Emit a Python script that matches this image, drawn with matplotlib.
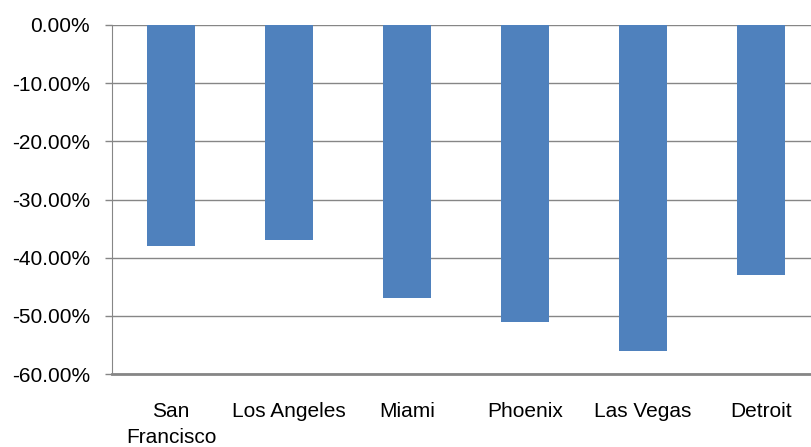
import matplotlib.pyplot as plt
from matplotlib.ticker import FuncFormatter, MultipleLocator

# 数据
cities = ["San\nFrancisco", "Los Angeles", "Miami", "Phoenix", "Las Vegas", "Detroit"]
changes = [-0.38, -0.37, -0.47, -0.51, -0.56, -0.43]

plt.rcParams['font.family'] = ['Liberation Sans', 'DejaVu Sans']

fig = plt.figure(figsize=(8.11, 4.47), dpi=100)
ax = fig.add_axes([112 / 811, 1 - 374 / 447, 708 / 811, 349 / 447])

x = range(len(cities))
ax.bar(x, changes, width=0.415, color='#4F81BD', zorder=3)

ax.set_ylim(-0.6, 0)
ax.set_xlim(-0.5, len(cities) - 0.5)
ax.yaxis.set_major_locator(MultipleLocator(0.1))
ax.yaxis.set_major_formatter(FuncFormatter(lambda v, _: f"{v * 100:.2f}%"))
ax.grid(axis='y', color='#868686', linewidth=1, zorder=0)

ax.set_xticks(list(x))
ax.set_xticklabels(cities, fontsize=15, linespacing=1.45, va='top')
ax.tick_params(axis='x', length=0, pad=20)
ax.tick_params(axis='y', length=5, width=1, color='#868686', pad=11, labelsize=15)

for side in ['top', 'right']:
    ax.spines[side].set_visible(False)
ax.spines['left'].set_color('#868686')
ax.spines['bottom'].set_color('#868686')
ax.spines['bottom'].set_linewidth(2)

fig.savefig('out.png', dpi=100)
